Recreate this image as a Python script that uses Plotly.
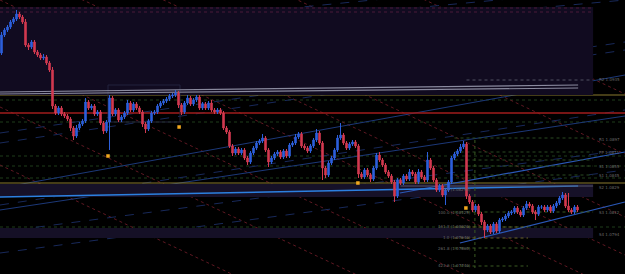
import plotly.graph_objects as go

# ---------------- data (prices in chart units) ----------------
first_open = 247
close = [
    265, 270, 273, 278, 281, 286, 283, 278, 255, 253,
    258, 248, 245, 242, 243, 237, 230, 194, 187, 192,
    186, 184, 181, 172, 164, 172, 176, 179, 198, 192,
    194, 186, 188, 177, 169, 178, 202, 186, 190, 180,
    183, 187, 197, 190, 196, 192, 188, 176, 171, 179,
    187, 188, 194, 197, 199, 201, 204, 205, 207, 195,
    188, 197, 202, 196, 200, 203, 192, 196, 192, 197,
    190, 188, 190, 187, 172, 168, 154, 147, 151, 147,
    150, 142, 138, 147, 152, 157, 159, 162, 150, 138,
    142, 146, 148, 143, 149, 144, 155, 157, 163, 166,
    154, 152, 149, 154, 160, 167, 157, 132, 125, 137,
    142, 150, 162, 165, 157, 152, 156, 158, 154, 126,
    123, 130, 125, 121, 132, 145, 140, 135, 128, 124,
    118, 104, 120, 117, 124, 121, 128, 126, 118, 128,
    123, 120, 140, 132, 120, 110, 114, 105, 110, 118,
    142, 146, 149, 153, 156, 104, 98, 90, 94, 86,
    78, 70, 74, 68, 76, 69, 80, 81, 84, 87,
    88, 92, 88, 85, 92, 96, 94, 88, 86, 93,
    93, 90, 93, 89, 94, 97, 102, 105, 94, 90, 88, 93, 90,
]
wick_up = [
    3, 2, 2, 2, 2, 4, 2, 2, 3, 2,
    2, 2, 2, 2, 3, 2, 2, 3, 2, 2,
    2, 2, 2, 2, 2, 3, 2, 2, 4, 2,
    2, 2, 2, 2, 2, 2, 3, 2, 2, 2,
    2, 2, 3, 2, 2, 2, 2, 2, 2, 2,
    2, 2, 2, 2, 2, 2, 2, 2, 3, 2,
    2, 2, 3, 2, 2, 2, 2, 2, 2, 2,
    3, 2, 2, 2, 2, 2, 2, 2, 2, 2,
    2, 2, 2, 2, 2, 2, 2, 4, 2, 2,
    2, 2, 2, 2, 2, 2, 2, 2, 3, 2,
    2, 2, 2, 2, 2, 4, 2, 2, 2, 2,
    2, 2, 3, 12, 2, 2, 2, 2, 2, 2,
    2, 2, 2, 2, 2, 2, 3, 2, 2, 2,
    2, 2, 2, 2, 2, 2, 3, 2, 2, 3,
    2, 2, 8, 2, 2, 2, 2, 2, 2, 2,
    2, 2, 2, 3, 3, 2, 2, 2, 2, 2,
    2, 2, 2, 2, 2, 2, 2, 2, 2, 2,
    2, 2, 2, 2, 2, 3, 2, 2, 2, 2,
    2, 2, 2, 2, 2, 2, 2, 3, 2, 13, 2, 2, 2,
]
wick_dn = [
    2, 2, 2, 2, 2, 2, 2, 2, 2, 3,
    2, 2, 2, 2, 2, 2, 2, 3, 2, 2,
    2, 2, 2, 3, 4, 2, 2, 2, 2, 2,
    2, 2, 2, 2, 3, 2, 28, 2, 2, 2,
    2, 2, 2, 2, 2, 2, 2, 3, 4, 2,
    2, 2, 2, 2, 2, 2, 2, 2, 2, 3,
    3, 2, 2, 2, 2, 2, 2, 2, 2, 2,
    2, 2, 2, 2, 2, 2, 2, 3, 2, 2,
    2, 2, 3, 2, 2, 2, 2, 2, 2, 5,
    2, 2, 2, 2, 2, 2, 2, 2, 2, 2,
    2, 2, 2, 2, 2, 2, 2, 12, 3, 2,
    2, 2, 2, 2, 2, 2, 2, 2, 2, 4,
    2, 2, 2, 3, 2, 2, 2, 2, 2, 2,
    2, 6, 2, 2, 2, 2, 2, 2, 2, 2,
    2, 2, 2, 2, 2, 2, 2, 2, 10, 2,
    2, 2, 2, 2, 2, 3, 2, 2, 2, 2,
    3, 8, 2, 2, 2, 2, 2, 2, 2, 2,
    2, 2, 2, 2, 2, 2, 2, 2, 6, 2,
    2, 2, 2, 2, 2, 2, 2, 2, 2, 2, 2, 2, 2,
]

# horizontal levels (price)
full_levels_olive = [205, 117]
full_levels_red = [187]
full_levels_green_dotted = [200, 178, 144, 134, 122, 73]
grey_lines = [(208, 215), (206, 212)]          # (left, right) prices
blue_main_line = (103, 114)
zones = [(205, 293), (103, 116), (62, 72)]     # (low, high) prices
top_dotted = [292, 288]
# diagonal trend lines: (price at left edge, price at right edge)
red_channel = [(500, 206), (440, 146), (377, 83), (339, 45), (300, 6),
               (244, -50), (193, -101), (135, -159)]
blue_dashed = [(263, 325), (253, 312), (243, 300), (167, 258), (157, 250),
               (95, 190), (68, 150), (47, 130)]
blue_solid = [(112, 225), (90, 184)]
trend_up = [(152.8, 57, 207.8, 98), (132.8, 107, 207.8, 148)]
# fibonacci tool
fib_right_levels = [162, 148, 140, 134, 125]
fib_lower_levels = [88, 73, 62, 52, 34]
fib_left_texts = [(111, "0.0 (1.08290)"), (88, "100.0 (1.08125)"),
                  (74, "161.8 (1.08020)"), (63, "1.0 (1.07940)"),
                  (52, "261.8 (1.07860)"), (35, "423.6 (1.07740)")]
side_labels = [(221, "R2 1.0935"), (161, "R1 1.0897"), (148, "PP 1.0871"),
               (134, "S1 1.0855"), (125, "S1 1.0845"), (113, "S2 1.0829"),
               (88, "S3 1.0812"), (66, "S4 1.0794")]
signal_x = [35.5, 59.2, 118.8, 154.8]
signal_y = [144, 173, 117, 92]

# ---------------- build ----------------
x = list(range(len(close)))
open_ = [first_open] + close[:-1]
high = [max(o, c) + u for o, c, u in zip(open_, close, wick_up)]
low = [min(o, c) - d for o, c, d in zip(open_, close, wick_dn)]

UP = "#2d60dc"
DN = "#d33a50"
XR = [-0.5, 207.833]
YR = [26, 300]

fig = go.Figure()
fig.add_trace(go.Candlestick(
    x=x, open=open_, high=high, low=low, close=close,
    increasing=dict(line=dict(color=UP, width=1), fillcolor=UP),
    decreasing=dict(line=dict(color=DN, width=1), fillcolor=DN),
    whiskerwidth=0, hoverinfo="skip", showlegend=False,
))
fig.add_trace(go.Scatter(
    x=signal_x, y=signal_y, mode="markers",
    marker=dict(symbol="square", size=3.5, color="#f2a81e"),
    hoverinfo="skip", showlegend=False,
))

shapes = []
for (lo, hi), col in zip(zones, ["#110b20", "#161128", "#151026"]):
    shapes.append(dict(type="rect", xref="x", yref="y", x0=-0.5, x1=197.2,
                       y0=lo, y1=hi, fillcolor=col, line_width=0, layer="below"))
for p in top_dotted:
    shapes.append(dict(type="line", xref="x", yref="y", x0=-0.5, x1=197.2, y0=p, y1=p,
                       line=dict(color="#4a1a38", width=1, dash="dot"), layer="below"))
shapes.append(dict(type="rect", xref="x", yref="y", x0=35.5, x1=59.5, y0=178, y1=215,
                   line=dict(color="#22223c", width=1), layer="below"))
for p in full_levels_green_dotted:
    shapes.append(dict(type="line", xref="paper", yref="y", x0=0, x1=1, y0=p, y1=p,
                       line=dict(color="#1f3d1a", width=1, dash="dot"), layer="below"))
for a, b in red_channel:
    shapes.append(dict(type="line", xref="paper", yref="y", x0=0, x1=1, y0=a, y1=b,
                       line=dict(color="#5e1822", width=1, dash="dot"), layer="below"))
for a, b in blue_dashed:
    shapes.append(dict(type="line", xref="paper", yref="y", x0=0, x1=1, y0=a, y1=b,
                       line=dict(color="#18295a", width=1, dash="dash"), layer="below"))
for a, b in blue_solid:
    shapes.append(dict(type="line", xref="paper", yref="y", x0=0, x1=1, y0=a, y1=b,
                       line=dict(color="#1c3878", width=1), layer="below"))
for x0, y0, x1, y1 in trend_up:
    shapes.append(dict(type="line", xref="x", yref="y", x0=x0, x1=x1, y0=y0, y1=y1,
                       line=dict(color="#2a58b8", width=1.2), layer="below"))
for a, b in grey_lines:
    shapes.append(dict(type="line", xref="x", yref="y", x0=-0.5, x1=192.2, y0=a, y1=b,
                       line=dict(color="#8a8a9e", width=1.2), layer="below"))
shapes.append(dict(type="line", xref="x", yref="y", x0=155, x1=197.2, y0=220, y1=220,
                   line=dict(color="#505060", width=1, dash="dot"), layer="below"))
for p in full_levels_olive:
    shapes.append(dict(type="line", xref="paper", yref="y", x0=0, x1=1, y0=p, y1=p,
                       line=dict(color="#8a7a2e", width=1.2), layer="below"))
for p in full_levels_red:
    shapes.append(dict(type="line", xref="paper", yref="y", x0=0, x1=1, y0=p, y1=p,
                       line=dict(color="#a01c1c", width=1.3), layer="below"))
shapes.append(dict(type="line", xref="x", yref="y", x0=-0.5, x1=192.2,
                   y0=blue_main_line[0], y1=blue_main_line[1],
                   line=dict(color="#2c80e0", width=1.5), layer="below"))
shapes.append(dict(type="line", xref="x", yref="y", x0=133, x1=197.2, y0=114, y1=114,
                   line=dict(color="#55556a", width=1), layer="below"))
shapes.append(dict(type="line", xref="x", yref="y", x0=157.8, x1=157.8, y0=160, y1=32,
                   line=dict(color="#3a5a22", width=1, dash="dot"), layer="below"))
for p in fib_right_levels:
    shapes.append(dict(type="line", xref="x", yref="y", x0=151, x1=197.2, y0=p, y1=p,
                       line=dict(color="#2a4a22", width=1, dash="dot"), layer="below"))
for p, col in zip(fib_lower_levels, ["#3a5a22", "#6a6a2a", "#6a6228", "#3a5a22", "#3a5a22"]):
    x1 = 197.2 if p == fib_lower_levels[0] else 175.5
    shapes.append(dict(type="line", xref="x", yref="y", x0=151, x1=x1, y0=p, y1=p,
                       line=dict(color=col, width=1, dash="dot"), layer="below"))

annotations = []
for p, t in side_labels:
    annotations.append(dict(x=198.6, y=p, xref="x", yref="y", text=t, showarrow=False,
                            xanchor="left", yanchor="middle",
                            font=dict(size=4, color="#6a6a6a", family="DejaVu Sans")))
for p, t in fib_left_texts:
    annotations.append(dict(x=157.3, y=p, xref="x", yref="y", text=t, showarrow=False,
                            xanchor="right", yanchor="middle",
                            font=dict(size=4, color="#6a6a6a", family="DejaVu Sans")))

fig.update_layout(
    width=625, height=274, margin=dict(l=0, r=0, t=0, b=0),
    paper_bgcolor="#000000", plot_bgcolor="#000000",
    xaxis=dict(range=XR, visible=False, rangeslider=dict(visible=False), fixedrange=True),
    yaxis=dict(range=YR, visible=False, fixedrange=True),
    shapes=shapes, annotations=annotations, showlegend=False,
)
fig.write_html("out.html")
